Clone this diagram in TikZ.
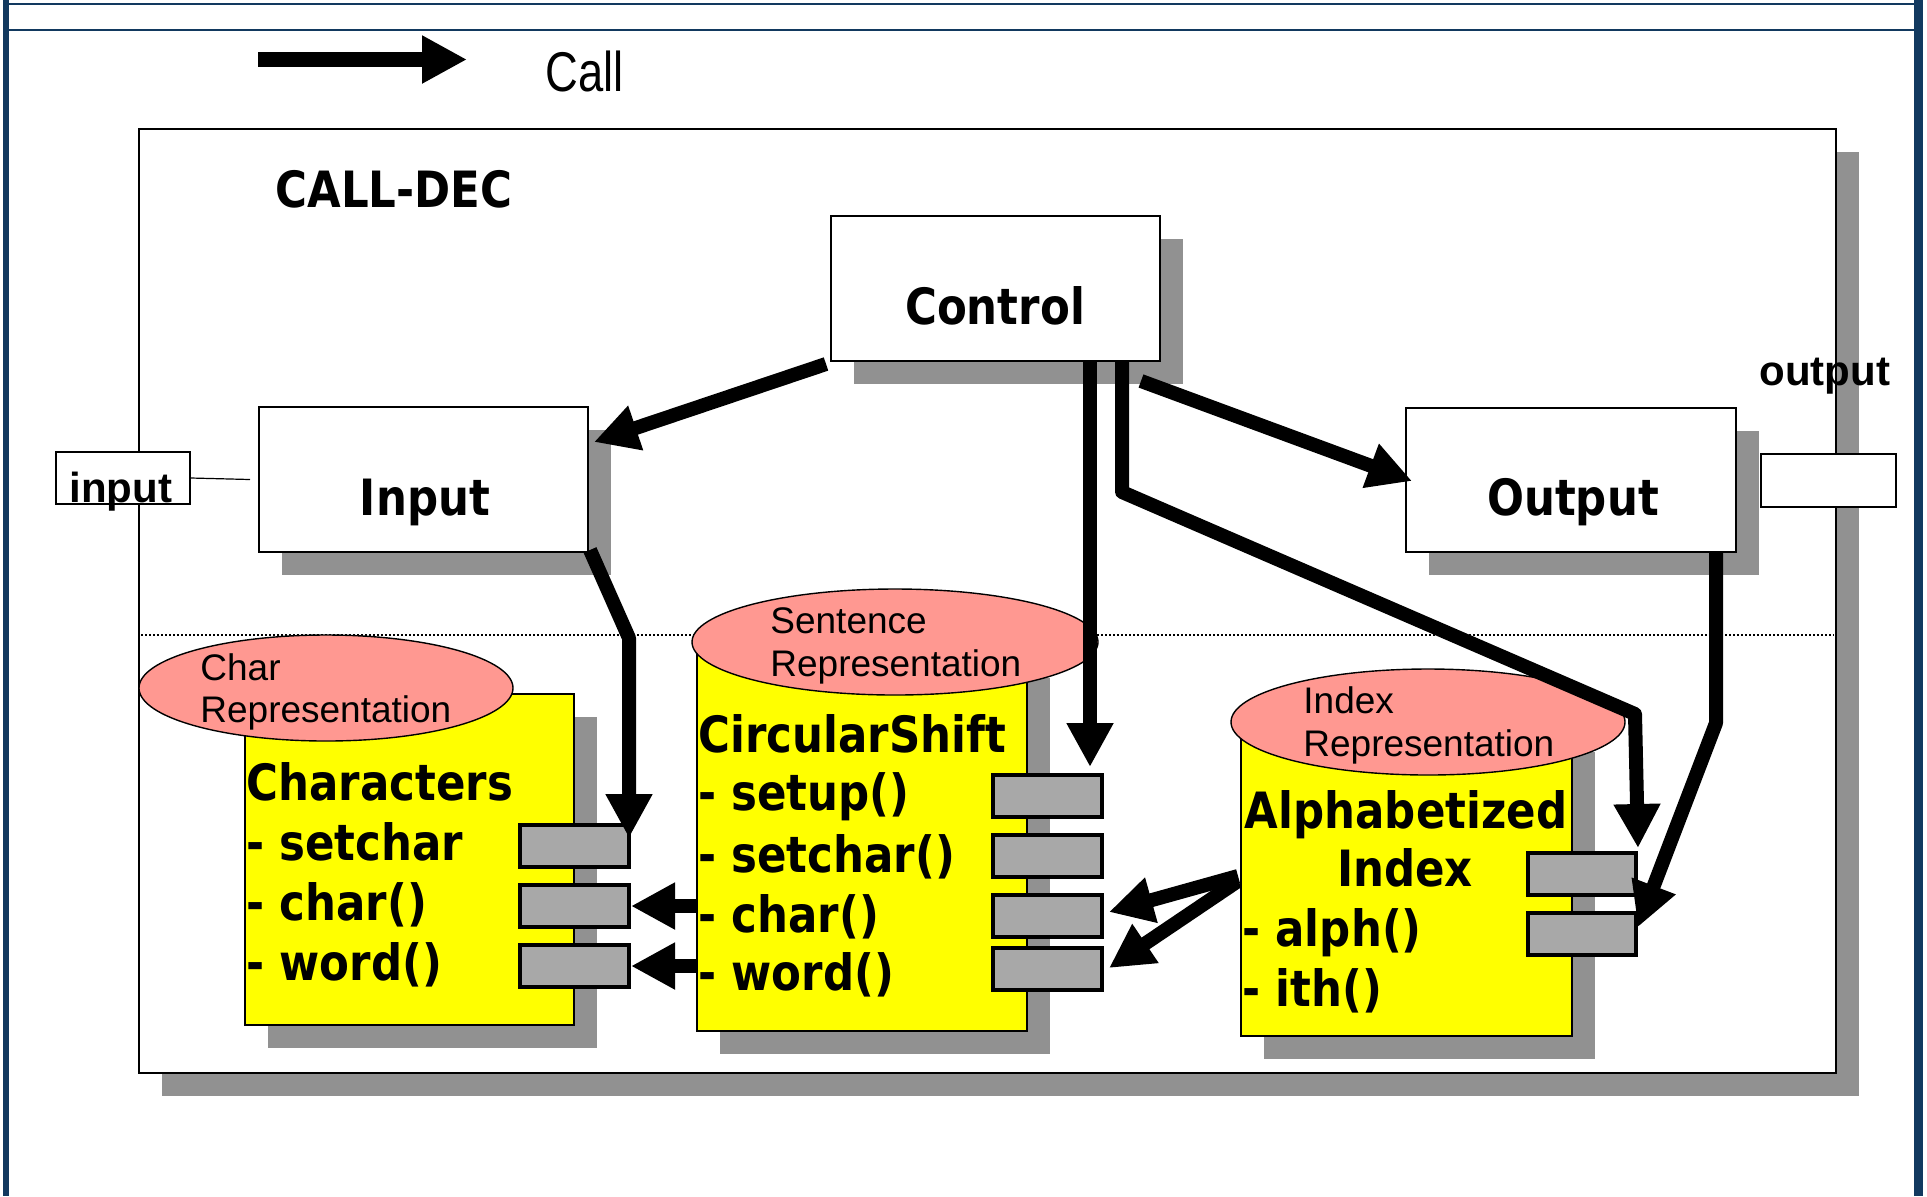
\documentclass[tikz,border=0pt]{standalone}
\usepackage{fontspec}
\setmainfont{Liberation Sans}
\newfontfamily\dvb{DejaVu Sans}[FakeStretch=0.87]
\newfontfamily\narrowsans{Liberation Sans}[FakeStretch=0.81]
\usetikzlibrary{arrows.meta,fit,calc,shapes.geometric}
\definecolor{slideblue}{HTML}{12395F}
\definecolor{shadowgray}{HTML}{919191}
\definecolor{portgray}{HTML}{A8A8A8}
\definecolor{reppink}{HTML}{FF9891}
\definecolor{dbyellow}{HTML}{FFFF00}
\tikzset{
  box/.style={draw=black, line width=1pt, fill=white, inner sep=0pt},
  ybox/.style={draw=black, line width=0.9pt, fill=dbyellow, inner sep=0pt},
  port/.style={draw=black, line width=2pt, fill=portgray, inner sep=0pt},
  rep/.style={ellipse, draw=black, line width=0.7pt, fill=reppink, inner sep=0pt},
  reptext/.style={font=\fontsize{18.5}{21}\selectfont, anchor=base west, inner sep=0pt},
  modtext/.style={font=\dvb\bfseries\fontsize{25}{30}\selectfont, anchor=base west, inner sep=0pt},
  modtitle/.style={font=\dvb\bfseries\fontsize{25}{30}\selectfont, anchor=base, inner sep=0pt},
  lbltext/.style={font=\bfseries\fontsize{21}{25}\selectfont, anchor=base west, inner sep=0pt},
  call/.style={line width=7pt, line join=round, -{Triangle[length=22pt,width=22pt]}},
}
\newcommand\sdbox[7]{%
  \fill[shadowgray] ($(#2,#3)+(#7,#7)$) rectangle ($(#4,#5)+(#7,#7)$);
  \node[#6, fit={(#2,#3) (#4,#5)}] (#1) {};}
\begin{document}
\begin{tikzpicture}[x=0.5pt,y=-0.5pt]
\useasboundingbox (0,0) rectangle (1927,1196);
\fill[white] (0,0) rectangle (1927,1196);
% slide border
\fill[slideblue] (3,0) rectangle (9,1196);
\fill[slideblue] (1914,0) rectangle (1923,1196);
\draw[slideblue, line width=1pt] (3,4) -- (1923,4);
\draw[slideblue, line width=1pt] (3,30) -- (1923,30);
% legend
\coordinate (lgs) at (258,59.5);
\coordinate (lge) at (467,59.5);
\draw[line width=7.5pt, -{Triangle[length=22.5pt,width=22.5pt]}] (lgs) -- (lge);
\node[anchor=base west, inner sep=0pt, font=\narrowsans\fontsize{28}{32}\selectfont] (calltxt) at (545,91) {Call};
% frame
\sdbox{frame}{139}{129}{1836}{1073}{draw=black, line width=1.25pt, fill=white, inner sep=0pt}{23}
\node[anchor=base west, inner sep=0pt, font=\dvb\bfseries\fontsize{25}{30}\selectfont] (title) at (275,207) {CALL-DEC};
\draw[line width=0.75pt, dash pattern=on 0.75pt off 1.25pt] (141,635) -- (1834,635);
% main boxes
\sdbox{ctrl}{831}{216}{1160}{361}{box}{23}
\node[modtitle] (ctrltxt) at (995,324) {Control};
\sdbox{inp}{259}{407}{588}{552}{box}{23}
\node[modtitle] (inptxt) at (425,515) {Input};
\sdbox{outp}{1406}{408}{1736}{552}{box}{23}
\node[modtitle] (outtxt) at (1573,515) {Output};
% Characters
\sdbox{chr}{245}{694}{574}{1025}{ybox}{23}
\node[rep, minimum width=187pt, minimum height=53pt] (chrrep) at (326,688) {};
\node[reptext] (chrrep1) at (200,680) {Char};
\node[reptext] (chrrep2) at (200,722) {Representation};
\node[modtext] (chr0) at (246,800) {Characters};
\node[modtext] (chr1) at (246,860) {- setchar};
\node[modtext] (chr2) at (246,920) {- char()};
\node[modtext] (chr3) at (246,980) {- word()};
\node[port, fit={(520,825) (629,867)}] (cp1) {};
\node[port, fit={(520,885) (629,927)}] (cp2) {};
\node[port, fit={(520,945) (629,987)}] (cp3) {};
% CircularShift
\sdbox{cs}{697}{655}{1027}{1031}{ybox}{23}
\node[rep, minimum width=203pt, minimum height=53pt] (csrep) at (895,642) {};
\node[reptext] (csrep1) at (770,633) {Sentence};
\node[reptext] (csrep2) at (770,676) {Representation};
\node[modtext] (cs0) at (698,752) {CircularShift};
\node[modtext] (cs1) at (698,810) {- setup()};
\node[modtext] (cs2) at (698,872) {- setchar()};
\node[modtext] (cs3) at (698,932) {- char()};
\node[modtext] (cs4) at (698,990) {- word()};
\node[port, fit={(993,775) (1102,817)}] (sp1) {};
\node[port, fit={(993,835) (1102,877)}] (sp2) {};
\node[port, fit={(993,895) (1102,937)}] (sp3) {};
\node[port, fit={(993,948) (1102,990)}] (sp4) {};
% Alphabetized Index
\sdbox{ix}{1241}{729}{1572}{1036}{ybox}{23}
\node[rep, minimum width=197pt, minimum height=53pt] (ixrep) at (1428,722) {};
\node[reptext] (ixrep1) at (1303,713) {Index};
\node[reptext] (ixrep2) at (1303,756) {Representation};
\node[modtitle] (ix0) at (1406,828) {Alphabetized};
\node[modtitle] (ix1) at (1405,886) {Index};
\node[modtext] (ix2) at (1242,946) {- alph()};
\node[modtext] (ix3) at (1242,1006) {- ith()};
\node[port, fit={(1528,853) (1636,895)}] (ip1) {};
\node[port, fit={(1528,913) (1636,955)}] (ip2) {};
% call arrows
\coordinate (a1s) at (826,364);
\coordinate (a1e) at (594,442);
\draw[call] (a1s) -- (a1e);
\coordinate (a2s) at (1141,381);
\coordinate (a2e) at (1412,481);
\draw[call] (a2s) -- (a2e);
\coordinate (a3s) at (1090,362);
\coordinate (a3e) at (1090,767);
\draw[call] (a3s) -- (a3e);
\coordinate (a4s) at (1122,362);
\coordinate (a4b) at (1122,492);
\coordinate (a4c) at (1635,714);
\draw[call] (a4s) -- (a4b) -- (a4c) -- ([yshift=1.5pt]ip1.north east);
\coordinate (a5s) at (590,550);
\coordinate (a5b) at (629,638);
\coordinate (a5e) at (629,838);
\draw[call] (a5s) -- (a5b) -- (a5e);
\coordinate (a6s) at (1716,552);
\coordinate (a6b) at (1716,723);
\coordinate (a6e) at (1638,927);
\draw[call] (a6s) -- (a6b) -- (a6e);
\draw[call] (cs.west |- cp2.east) -- (cp2.east);
\draw[call] (cs.west |- cp3.east) -- (cp3.east);
\coordinate (a9s) at (1238,876);
\coordinate (a10s) at (1238,881);
\draw[call] (a9s) -- ([xshift=2.5pt,yshift=2pt]sp3.east);
\draw[call] (a10s) -- ([xshift=2.5pt,yshift=0.5pt]sp4.east);
% input / output labels
\node[box, fit={(56,452) (190,504)}] (inlbl) {};
\node[lbltext] (inlbltxt) at (69,502) {input};
\draw[line width=0.6pt] (inlbl.east) -- ([xshift=-4pt]inp.west);
\node[lbltext] (outlbltxt) at (1759,385) {output};
\node[box, fit={(1761,454) (1896,507)}] (outlbl) {};
\end{tikzpicture}
\end{document}
